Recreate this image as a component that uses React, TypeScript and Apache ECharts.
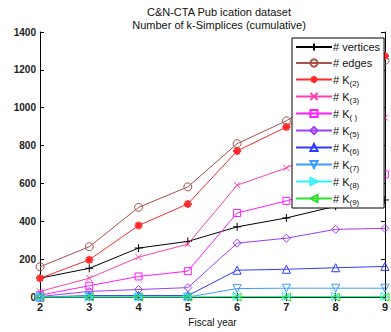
import React, { useEffect, useRef } from "react";
import * as echarts from "echarts";

const years = [2, 3, 4, 5, 6, 7, 8, 9];
const vertices = [100, 152, 259, 294, 371, 418, 480, 513];
const edges = [160, 266, 474, 582, 810, 931, 1090, 1250];
const k2 = [100, 197, 378, 492, 772, 898, 1080, 1273];
const k3 = [30, 100, 211, 280, 591, 682, 810, 948];
const k4 = [10, 60, 109, 137, 444, 508, 580, 648];
const k5 = [3, 30, 40, 50, 285, 311, 358, 363];
const k6 = [0, 8, 8, 8, 142, 147, 155, 162];
const k7 = [0, 0, 0, 0, 45, 47, 47, 47];
const k8 = [0, 0, 0, 0, 3, 3, 3, 3];
const k9 = [0, 0, 0, 0, 0, 0, 0, 0];

const seriesNames = ["# vertices", "# edges", "# K(2)", "# K(3)", "# K( )", "# K(5)", "# K(6)", "# K(7)", "# K(8)", "# K(9)"];
const seriesValues = [vertices, edges, k2, k3, k4, k5, k6, k7, k8, k9];
const seriesColors = ["#000000", "#a8524c", "#ff2a2a", "#ff3fae", "#ff1cff", "#9b3cff", "#2f3cff", "#3a9cff", "#2ef2ff", "#2ee02e"];
const seriesSymbols = [
  "path://M0,5L10,5M5,0L5,10",
  "circle",
  "path://M5,0L5,10M0,5L10,5M1.5,1.5L8.5,8.5M1.5,8.5L8.5,1.5",
  "path://M0,0L10,10M0,10L10,0",
  "rect",
  "diamond",
  "triangle",
  "path://M0,0L10,0L5,9Z",
  "path://M0,0L9,5L0,10Z",
  "path://M9,0L0,5L9,10Z",
];
const seriesSizes = [8, 8, 8, 6, 7, 8, 8, 8, 8, 8];
const xTicks = [2, 3, 4, 5, 6, 7, 8, 9];
const yTicks = [0, 200, 400, 600, 800, 1000, 1200, 1400];

const FONT = "Liberation Sans";

export default function App() {
  const ref = useRef<HTMLDivElement>(null);
  useEffect(() => {
    if (!ref.current) return;
    const chart = echarts.init(ref.current, undefined, { renderer: "svg" });
    const series = seriesNames.map((name, i) => ({
      name,
      type: "line",
      data: years.map((y, j) => [y, seriesValues[i][j]]),
      symbol: seriesSymbols[i],
      symbolSize: seriesSizes[i],
      showAllSymbol: true,
      xAxisIndex: 0,
      yAxisIndex: 0,
      lineStyle: { color: seriesColors[i], width: 1 },
      itemStyle: {
        color: "rgba(255,255,255,0)",
        borderColor: seriesColors[i],
        borderWidth: i === 2 ? 2 : 1,
      },
      emphasis: { disabled: true },
      z: 2,
    }));
    chart.setOption({
      animation: false,
      title: {
        text: "C&N-CTA Pub ication dataset\nNumber of k-Simplices (cumulative)",
        left: 214,
        top: 1,
        textAlign: "center",
        textStyle: { fontFamily: FONT, fontSize: 11, fontWeight: "normal", color: "#111", lineHeight: 12.5 },
      },
      grid: { left: 40, right: 4, top: 32, bottom: 31 },
      legend: {
        data: seriesNames,
        orient: "vertical",
        left: 292,
        top: 38,
        width: 90,
        padding: [2, 4, 2, 3],
        itemWidth: 36,
        itemHeight: 9,
        itemGap: 2,
        backgroundColor: "#fff",
        borderColor: "#000",
        borderWidth: 1,
        borderRadius: 0,
        z: 10,
        formatter: (name: string) => {
          if (name.startsWith("# K")) {
            return "# K{s|" + name.slice(3) + "}";
          }
          return name;
        },
        textStyle: {
          fontFamily: FONT,
          fontSize: 11,
          color: "#111",
          padding: [0, 0, 0, -4],
          lineHeight: 14,
          rich: {
            s: { fontFamily: FONT, fontSize: 8, color: "#111", padding: [7, 0, 0, 0], lineHeight: 12 },
          },
        },
      },
      xAxis: [
        {
          type: "value",
          min: 2,
          max: 9,
          interval: 1,
          name: "Fiscal year",
          nameLocation: "middle",
          nameGap: 18,
          nameTextStyle: { fontFamily: FONT, fontSize: 10, color: "#111" },
          axisLine: { lineStyle: { color: "#000", width: 1 } },
          axisTick: { inside: true, length: 4, lineStyle: { color: "#000" } },
          axisLabel: { fontFamily: FONT, fontSize: 11, fontWeight: "bold", color: "#222", margin: 4, formatter: (v: number) => (xTicks.includes(v) ? String(v) : "") },
          splitLine: { show: false },
        },
        {
          type: "value",
          position: "top",
          min: 2,
          max: 9,
          interval: 1,
          axisLine: { show: true, lineStyle: { color: "#000", width: 1 } },
          axisTick: { inside: true, length: 4, lineStyle: { color: "#000" } },
          axisLabel: { show: false },
          splitLine: { show: false },
        },
      ],
      yAxis: [
        {
          type: "value",
          min: 0,
          max: 1400,
          interval: 200,
          axisLine: { show: true, lineStyle: { color: "#000", width: 1 } },
          axisTick: { show: true, inside: true, length: 4, lineStyle: { color: "#000" } },
          axisLabel: { fontFamily: FONT, fontSize: 10, fontWeight: "bold", color: "#222", margin: 4, formatter: (v: number) => (yTicks.includes(v) ? String(v) : "") },
          splitLine: { show: false },
        },
        {
          type: "value",
          position: "right",
          min: 0,
          max: 1400,
          interval: 200,
          axisLine: { show: true, lineStyle: { color: "#000", width: 1 } },
          axisTick: { show: true, inside: true, length: 4, lineStyle: { color: "#000" } },
          axisLabel: { show: false },
          splitLine: { show: false },
        },
      ],
      series,
    });
    return () => chart.dispose();
  }, []);
  return <div ref={ref} style={{ width: 391, height: 332, position: "absolute", left: 0, top: 0, background: "#fff" }} />;
}
